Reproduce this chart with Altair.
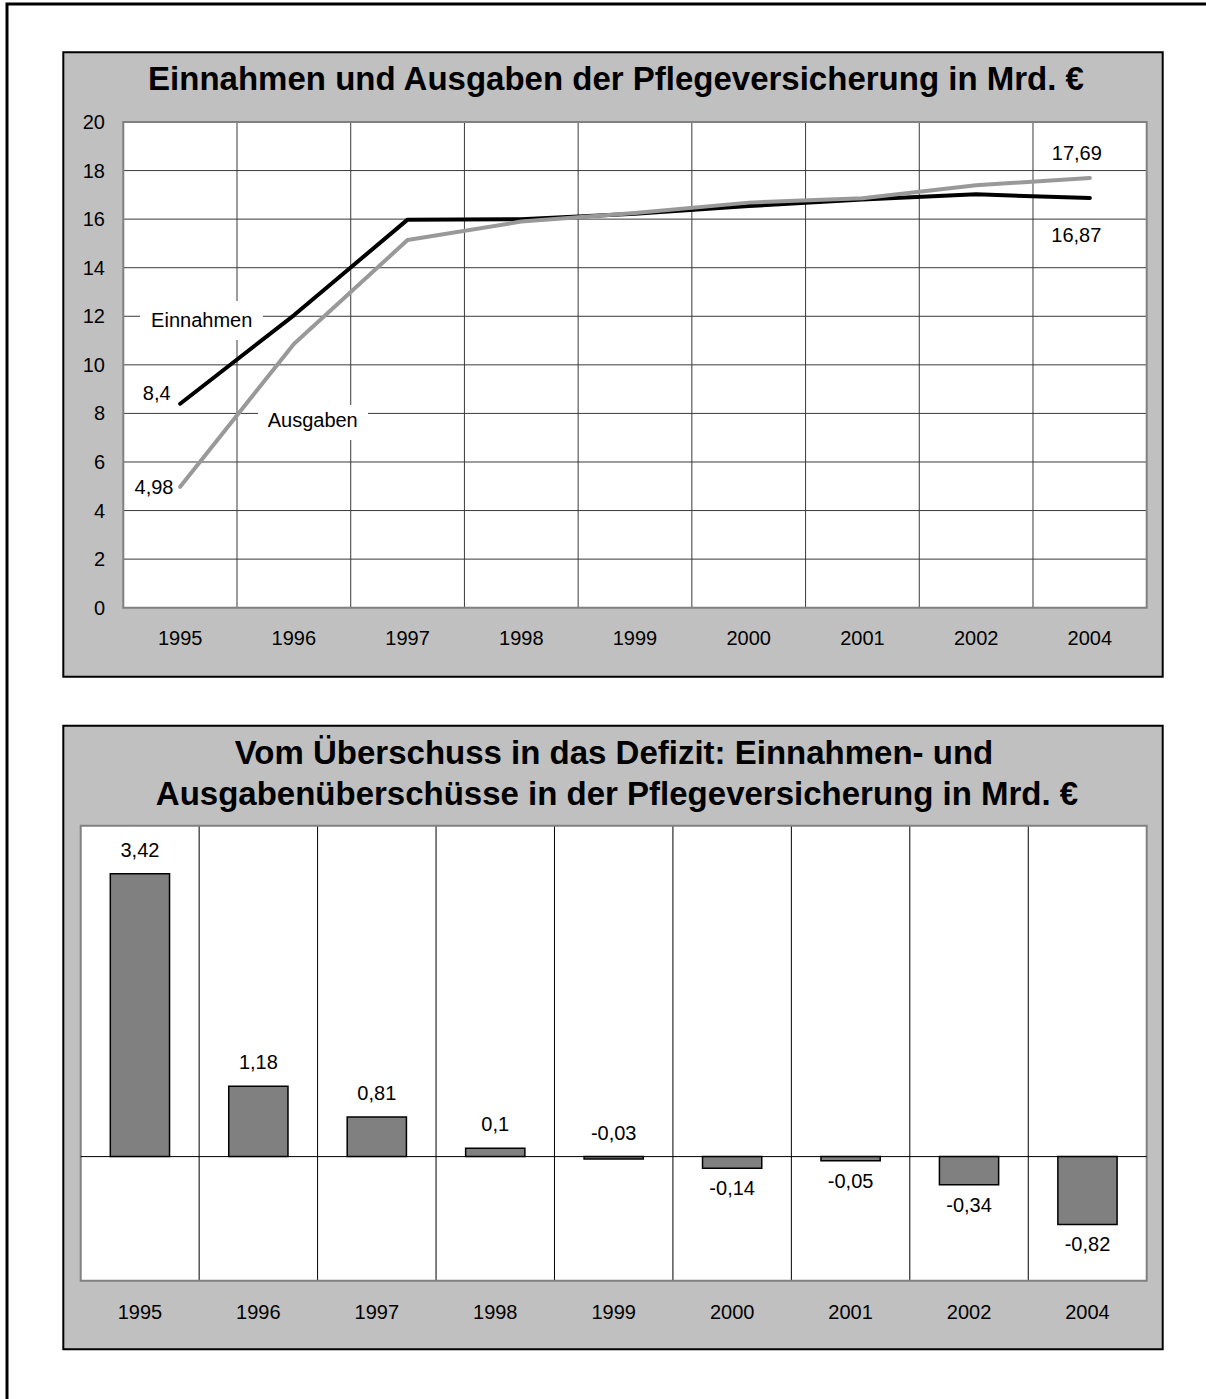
import altair as alt
import pandas as pd

# ---------------- data ----------------
years = ["1995", "1996", "1997", "1998", "1999", "2000", "2001", "2002", "2004"]
einnahmen = [8.4, 12.04, 15.98, 16.0, 16.22, 16.54, 16.81, 17.02, 16.87]
ausgaben = [4.98, 10.86, 15.14, 15.9, 16.25, 16.68, 16.86, 17.4, 17.69]
surplus_bars = [3.42, 0.85, 0.48, 0.1, -0.03, -0.14, -0.05, -0.34, -0.82]
surplus_labels = ["3,42", "1,18", "0,81", "0,1", "-0,03", "-0,14", "-0,05", "-0,34", "-0,82"]
y_ticks_top = [0, 2, 4, 6, 8, 10, 12, 14, 16, 18, 20]
series_names = ["Einnahmen", "Ausgaben"]
title_top = "Einnahmen und Ausgaben der Pflegeversicherung in Mrd. €"
title_bottom_1 = "Vom Überschuss in das Defizit: Einnahmen- und"
title_bottom_2 = "Ausgabenüberschüsse in der Pflegeversicherung in Mrd. €"

# ---------------- layout ----------------
FONT = "Liberation Sans"
W, H = 1206, 1399
FRAME = (7, 4, 1230, 1420)
TOP_PANEL = (63.3, 52.3, 1162.7, 676.7)
TOP_PLOT = (123.3, 122.0, 1146.7, 607.7)
BOT_PANEL = (63.3, 725.7, 1162.7, 1349.3)
BOT_PLOT = (80.7, 825.7, 1146.7, 1280.7)
TOP_YDOM = [0, 20]
BOT_YDOM = [-1.5, 4]
PANEL_FILL = "#C0C0C0"
GRID_TOP = "#3a3a3a"
TITLE_SIZE = 33
LABEL_SIZE = 20

one = pd.DataFrame({"k": [0]})


def rect(box, **kw):
    x1, y1, x2, y2 = box
    return alt.Chart(one).mark_rect(**kw).encode(
        x=alt.value(x1), x2=alt.value(x2), y=alt.value(y1), y2=alt.value(y2)
    )


def title_text(txt, x, y):
    return alt.Chart(pd.DataFrame({"t": [txt]})).mark_text(
        font=FONT, fontSize=TITLE_SIZE, fontWeight="bold", color="black",
        align="center", baseline="alphabetic"
    ).encode(text="t:N", x=alt.value(x), y=alt.value(y))


def free_text(txt, x, y):
    return alt.Chart(pd.DataFrame({"t": [txt]})).mark_text(
        font=FONT, fontSize=LABEL_SIZE, color="black", align="center", baseline="middle"
    ).encode(text="t:N", x=alt.value(x), y=alt.value(y))


# ---------------- top chart ----------------
xs_top = alt.Scale(type="band", domain=years, range=[TOP_PLOT[0], TOP_PLOT[2]],
                   paddingInner=0, paddingOuter=0)
ys_top = alt.Scale(domain=TOP_YDOM, range=[TOP_PLOT[3], TOP_PLOT[1]], nice=False, zero=False)

top_df = pd.DataFrame({"year": years, "Einnahmen": einnahmen, "Ausgaben": ausgaben})
top_df["Einnahmen_lab"] = [str(v).replace(".", ",") for v in einnahmen]
top_df["Ausgaben_lab"] = [str(v).replace(".", ",") for v in ausgaben]
yt_df = pd.DataFrame({"v": y_ticks_top, "lab": [str(v) for v in y_ticks_top]})
yr_df = pd.DataFrame({"year": years})

hgrid_top = alt.Chart(yt_df).transform_filter(
    "datum.v > 0 && datum.v < 20"
).mark_rule(color=GRID_TOP, strokeWidth=1).encode(
    y=alt.Y("v:Q", scale=ys_top, axis=None),
    x=alt.value(TOP_PLOT[0]), x2=alt.value(TOP_PLOT[2]))

vgrid_top = alt.Chart(pd.DataFrame({"year": years[1:]})).mark_rule(
    color=GRID_TOP, strokeWidth=1
).encode(x=alt.X("year:N", scale=xs_top, bandPosition=0, axis=None),
         y=alt.value(TOP_PLOT[1]), y2=alt.value(TOP_PLOT[3]))

ylabels_top = alt.Chart(yt_df).mark_text(
    font=FONT, fontSize=LABEL_SIZE, color="black", align="right", baseline="middle", dy=1
).encode(y=alt.Y("v:Q", scale=ys_top, axis=None), x=alt.value(105), text="lab:N")

xlabels_top = alt.Chart(yr_df).mark_text(
    font=FONT, fontSize=LABEL_SIZE, color="black", align="center", baseline="middle"
).encode(x=alt.X("year:N", scale=xs_top, bandPosition=0.5, axis=None),
         y=alt.value(639), text="year:N")

line_e = alt.Chart(top_df).mark_line(
    color="black", strokeWidth=4, strokeCap="round", strokeJoin="round"
).encode(x=alt.X("year:N", scale=xs_top, bandPosition=0.5, axis=None),
         y=alt.Y("Einnahmen:Q", scale=ys_top, axis=None))

line_a = alt.Chart(top_df).mark_line(
    color="#999999", strokeWidth=4, strokeCap="round", strokeJoin="round"
).encode(x=alt.X("year:N", scale=xs_top, bandPosition=0.5, axis=None),
         y=alt.Y("Ausgaben:Q", scale=ys_top, axis=None))


def vlabel(field, year, dx, dy, align):
    return alt.Chart(top_df).transform_filter(alt.datum.year == year).mark_text(
        font=FONT, fontSize=LABEL_SIZE, color="black", align=align, baseline="middle",
        dx=dx, dy=dy
    ).encode(x=alt.X("year:N", scale=xs_top, bandPosition=0.5, axis=None),
             y=alt.Y(f"{field}:Q", scale=ys_top, axis=None),
             text=f"{field}_lab:N")


top = alt.layer(
    rect(FRAME, fill="transparent", stroke="black", strokeWidth=3),
    rect(TOP_PANEL, fill=PANEL_FILL, stroke="black", strokeWidth=2),
    title_text(title_top, 616, 89.5),
    rect(TOP_PLOT, fill="white"),
    hgrid_top,
    vgrid_top,
    rect(TOP_PLOT, fill="transparent", stroke="#808080", strokeWidth=2),
    ylabels_top,
    xlabels_top,
    rect((140, 301, 263, 340), fill="white"),
    rect((258, 405, 368, 440), fill="white"),
    free_text(series_names[0], 201.7, 321),
    free_text(series_names[1], 312.7, 421),
    line_e,
    line_a,
    vlabel("Einnahmen", years[0], -9.5, -10, "right"),
    vlabel("Ausgaben", years[0], -6.7, 1, "right"),
    vlabel("Ausgaben", years[-1], -13, -24.5, "center"),
    vlabel("Einnahmen", years[-1], -13.5, 38, "center"),
)

# ---------------- bottom chart ----------------
xs_bot = alt.Scale(type="band", domain=years, range=[BOT_PLOT[0], BOT_PLOT[2]],
                   paddingInner=0, paddingOuter=0)
ys_bot = alt.Scale(domain=BOT_YDOM, range=[BOT_PLOT[3], BOT_PLOT[1]], nice=False, zero=False)

bot_df = pd.DataFrame({"year": years, "value": surplus_bars, "label": surplus_labels})

vgrid_bot = alt.Chart(pd.DataFrame({"year": years[1:]})).mark_rule(
    color="black", strokeWidth=1
).encode(x=alt.X("year:N", scale=xs_bot, bandPosition=0, axis=None),
         y=alt.value(BOT_PLOT[1]), y2=alt.value(BOT_PLOT[3]))

bars = alt.Chart(bot_df).mark_bar(
    fill="#808080", stroke="black", strokeWidth=1.5, width=alt.RelativeBandSize(0.5)
).encode(x=alt.X("year:N", scale=xs_bot, axis=None),
         y=alt.Y("value:Q", scale=ys_bot, axis=None),
         y2=alt.datum(0))

zero_line = alt.Chart(one).mark_rule(color="black", strokeWidth=1).encode(
    y=alt.Y(datum=0, scale=ys_bot, axis=None),
    x=alt.value(BOT_PLOT[0]), x2=alt.value(BOT_PLOT[2]))

xlabels_bot = alt.Chart(yr_df).mark_text(
    font=FONT, fontSize=LABEL_SIZE, color="black", align="center", baseline="middle"
).encode(x=alt.X("year:N", scale=xs_bot, bandPosition=0.5, axis=None),
         y=alt.value(1312.5), text="year:N")

lab_above = alt.Chart(bot_df).transform_filter("datum.value >= -0.03").transform_calculate(
    anchor="max(datum.value, 0)"
).mark_text(font=FONT, fontSize=LABEL_SIZE, color="black", align="center",
            baseline="middle", dy=-23
).encode(x=alt.X("year:N", scale=xs_bot, bandPosition=0.5, axis=None),
         y=alt.Y("anchor:Q", scale=ys_bot, axis=None),
         text="label:N")

lab_below = alt.Chart(bot_df).transform_filter("datum.value < -0.03").mark_text(
    font=FONT, fontSize=LABEL_SIZE, color="black", align="center", baseline="middle", dy=21
).encode(x=alt.X("year:N", scale=xs_bot, bandPosition=0.5, axis=None),
         y=alt.Y("value:Q", scale=ys_bot, axis=None),
         text="label:N")

bottom = alt.layer(
    rect(BOT_PANEL, fill=PANEL_FILL, stroke="black", strokeWidth=2),
    title_text(title_bottom_1, 614, 764),
    title_text(title_bottom_2, 617, 805),
    rect(BOT_PLOT, fill="white"),
    vgrid_bot,
    rect(BOT_PLOT, fill="transparent", stroke="#808080", strokeWidth=2),
    xlabels_bot,
    bars,
    zero_line,
    lab_above,
    lab_below,
)

chart = alt.layer(top, bottom).resolve_scale(
    x="independent", y="independent"
).properties(
    width=W, height=H, autosize=alt.AutoSizeParams(type="none"), padding=0,
    background="white"
).configure_view(stroke="transparent")

chart.save("out.html", embed_options={"renderer": "svg", "actions": False})
